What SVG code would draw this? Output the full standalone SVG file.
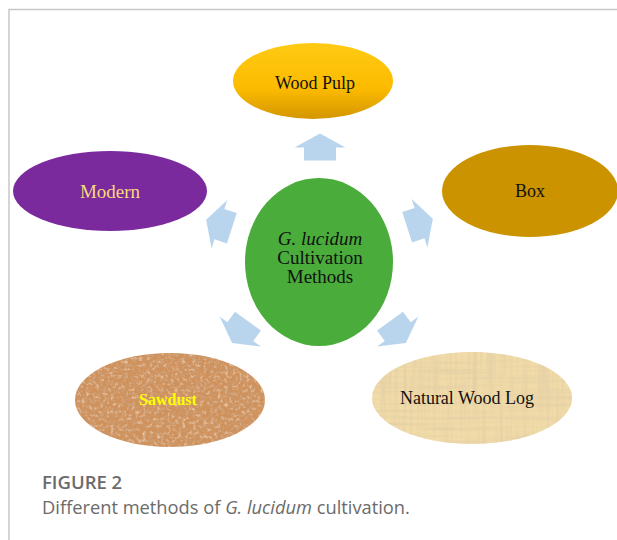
<svg xmlns="http://www.w3.org/2000/svg" width="617" height="540" viewBox="0 0 617 540">
<style>
.lbl{font-family:"Liberation Serif","Times New Roman",serif;font-size:18px;text-anchor:middle;fill:#111}
.arrow{fill:#b9d5ee}
.cap{font-family:"Open Sans","Noto Sans",sans-serif;fill:#6b6b6b}
</style>
<defs>
<linearGradient id="gold" x1="0" y1="0" x2="0" y2="1">
<stop offset="0" stop-color="#ffca14"/>
<stop offset="0.6" stop-color="#fcbb00"/>
<stop offset="1" stop-color="#d39600"/>
</linearGradient>
<polygon id="arr" points="0,-13.5 25.5,0.5 16,0.5 16,13.5 -16,13.5 -16,0.5 -25.5,0.5"/>
<filter id="cork" x="0" y="0" width="100%" height="100%">
<feTurbulence type="fractalNoise" baseFrequency="0.28" numOctaves="3" seed="4" result="n"/>
<feColorMatrix in="n" type="matrix" values="0 0 0 0 0.62  0 0 0 0 0.37  0 0 0 0 0.2  3 0 0 0 -1.45" result="d"/>
<feComposite in="d" in2="SourceGraphic" operator="in" result="dk"/>
<feColorMatrix in="n" type="matrix" values="0 0 0 0 0.86  0 0 0 0 0.64  0 0 0 0 0.45  0 2.4 0 0 -1.3" result="l"/>
<feComposite in="l" in2="SourceGraphic" operator="in" result="lt"/>
<feMerge><feMergeNode in="SourceGraphic"/><feMergeNode in="dk"/><feMergeNode in="lt"/></feMerge>
</filter>
<filter id="papyrus" x="0" y="0" width="100%" height="100%">
<feTurbulence type="fractalNoise" baseFrequency="0.3 0.012" numOctaves="2" seed="2" result="v"/>
<feColorMatrix in="v" type="matrix" values="0 0 0 0 0.78  0 0 0 0 0.63  0 0 0 0 0.38  2.4 0 0 0 -1.05" result="vc"/>
<feTurbulence type="fractalNoise" baseFrequency="0.012 0.3" numOctaves="2" seed="7" result="h"/>
<feColorMatrix in="h" type="matrix" values="0 0 0 0 0.78  0 0 0 0 0.63  0 0 0 0 0.38  2.4 0 0 0 -1.05" result="hc"/>
<feMerge result="m"><feMergeNode in="vc"/><feMergeNode in="hc"/></feMerge>
<feComposite in="m" in2="SourceGraphic" operator="in" result="mc"/>
<feMerge><feMergeNode in="SourceGraphic"/><feMergeNode in="mc"/></feMerge>
</filter>
</defs>
<rect width="617" height="540" fill="#fff"/>
<path d="M9,540 V9.5 H617" fill="none" stroke="#c8c8c8" stroke-width="1.5"/>

<g id="connectors">
<use href="#arr" class="arrow" transform="translate(320,147)"/>
<use href="#arr" class="arrow" transform="translate(219,224) rotate(-72)"/>
<use href="#arr" class="arrow" transform="translate(420,223) rotate(72)"/>
<use href="#arr" class="arrow" transform="translate(240,332) rotate(-144)"/>
<use href="#arr" class="arrow" transform="translate(398,332) rotate(144)"/>
</g>

<g id="wood-pulp">
<ellipse cx="313" cy="81" rx="80" ry="38" fill="url(#gold)"/>
<text class="lbl" x="315" y="89">Wood Pulp</text>
</g>
<g id="modern">
<ellipse cx="110" cy="191" rx="97" ry="40" fill="#7b2a9e"/>
<text class="lbl" x="110" y="198" style="font-size:19px;fill:#f8da78">Modern</text>
</g>
<g id="box">
<ellipse cx="530" cy="191" rx="88" ry="46" fill="#cb9300"/>
<text class="lbl" x="530" y="197">Box</text>
</g>
<g id="center">
<ellipse cx="319" cy="262" rx="74" ry="84" fill="#4aad3b"/>
<text class="lbl" x="320" y="245" style="font-size:19px;font-style:italic">G. lucidum</text>
<text class="lbl" x="320" y="264" style="font-size:19px">Cultivation</text>
<text class="lbl" x="320" y="283" style="font-size:19px">Methods</text>
</g>
<g id="sawdust">
<ellipse cx="170" cy="400" rx="95" ry="47" fill="#cf925d" filter="url(#cork)"/>
<text class="lbl" x="168" y="405" style="font-size:16px;font-weight:bold;fill:#ffff00">Sawdust</text>
</g>
<g id="natural-wood-log">
<ellipse cx="472" cy="398" rx="100" ry="46" fill="#f1dba8" filter="url(#papyrus)"/>
<text class="lbl" x="467" y="404">Natural Wood Log</text>
</g>

<text class="cap" x="42" y="489" style="font-size:18.5px;font-weight:600">FIGURE 2</text>
<text class="cap" x="42" y="514" style="font-size:18.3px">Different methods of <tspan font-style="italic">G. lucidum</tspan> cultivation.</text>
</svg>
